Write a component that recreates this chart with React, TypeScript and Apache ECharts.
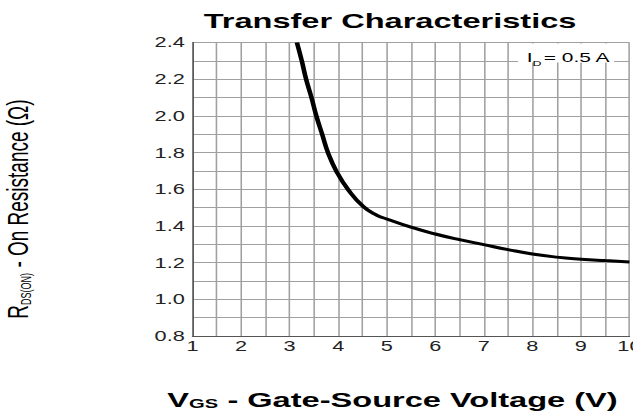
import React, { useEffect, useRef } from "react";
import * as echarts from "echarts";

// Data (V_GS in volts, R_DS(ON) in ohms)
const VGS = [3.15, 3.25, 3.34, 3.45, 3.55, 3.67, 3.79, 3.96, 4.2, 4.52, 4.8, 5.0, 5.5, 6.0, 6.5, 7.0, 7.5, 8.0, 8.5, 9.0, 9.5, 10];
const RDS = [2.4, 2.3, 2.2, 2.1, 2.0, 1.9, 1.8, 1.7, 1.6, 1.505, 1.458, 1.438, 1.393, 1.356, 1.325, 1.298, 1.271, 1.247, 1.23, 1.219, 1.211, 1.204];

const X_MIN = 1, X_MAX = 10, X_STEP = 0.5;
const Y_MIN = 0.8, Y_MAX = 2.4, Y_STEP = 0.1;

const TITLE = "Transfer Characteristics";
const NOTE_MAIN = "I";
const NOTE_SUB = "D";
const NOTE_REST = "= 0.5 A";

// The reference picture is horizontally stretched; reproduce it with a CSS scaleX.
const INNER_W = 408;
const STRETCH = 633 / INNER_W;
const FONT = "'Liberation Sans', Arial, Helvetica, sans-serif";

export default function App() {
  const ref = useRef<HTMLDivElement>(null);
  useEffect(() => {
    if (!ref.current) return;
    const chart = echarts.init(ref.current, undefined, { renderer: "svg" });
    const data = VGS.map((v, i) => [v, RDS[i]]);
    chart.setOption({
      animation: false,
      grid: { left: 124.1, right: 2.3, top: 42.5, bottom: 75, outerBoundsMode: "none" },
      xAxis: {
        type: "value",
        min: X_MIN,
        max: X_MAX,
        interval: X_STEP,
        axisLine: { show: true, lineStyle: { color: "#555", width: 1 } },
        axisTick: { show: false },
        splitLine: { show: true, lineStyle: { color: "#a0a0a0", width: 1 } },
        axisLabel: {
          color: "#222",
          fontSize: 14,
          fontFamily: FONT,
          margin: 3,
          showMaxLabel: true,
          showMinLabel: true,
          formatter: (v: number) => (Math.abs(v - Math.round(v)) < 1e-6 ? String(Math.round(v)) : ""),
        },
      },
      yAxis: {
        type: "value",
        min: Y_MIN,
        max: Y_MAX,
        interval: Y_STEP,
        axisLine: { show: true, lineStyle: { color: "#555", width: 1 } },
        axisTick: { show: false },
        splitLine: { show: true, lineStyle: { color: "#a0a0a0", width: 1 } },
        axisLabel: {
          color: "#222",
          fontSize: 14,
          fontFamily: FONT,
          margin: 5,
          showMaxLabel: true,
          showMinLabel: true,
          formatter: (v: number) => {
            const t = Math.round(v * 10);
            return t % 2 === 0 ? (t / 10).toFixed(1) : "";
          },
        },
      },
      graphic: [
        {
          type: "text",
          x: 251.4,
          y: 20.5,
          z: 20,
          style: {
            text: TITLE,
            fontSize: 21,
            fontWeight: "bold",
            fontFamily: FONT,
            fill: "#000",
            align: "center",
            verticalAlign: "middle",
          },
        },
        {
          type: "text",
          x: 253,
          y: 398.5,
          z: 20,
          style: {
            text: "{m|V}{s|GS}{m| - Gate-Source Voltage (V)}",
            fontFamily: FONT,
            fill: "#000",
            align: "center",
            verticalAlign: "middle",
            rich: {
              m: { fontSize: 21, fontWeight: "bold", fontFamily: FONT, fill: "#000", verticalAlign: "bottom", lineHeight: 24 },
              s: { fontSize: 13, fontWeight: "bold", fontFamily: FONT, fill: "#000", verticalAlign: "bottom", lineHeight: 12 },
            },
          },
        },
        {
          type: "text",
          x: 10.3,
          y: 209,
          z: 20,
          rotation: Math.PI / 2,
          style: {
            text: "{m|R}{s|DS(ON)}{m| - On Resistance (Ω)}",
            fontFamily: FONT,
            fill: "#000",
            align: "center",
            verticalAlign: "middle",
            rich: {
              m: { fontSize: 19, fontFamily: FONT, fill: "#000", verticalAlign: "bottom", lineHeight: 22 },
              s: { fontSize: 9, fontFamily: FONT, fill: "#000", verticalAlign: "bottom", lineHeight: 9 },
            },
          },
        },
        {
          type: "rect",
          z: 15,
          shape: { x: 333.9, y: 43.5, width: 61.9, height: 19 },
          style: { fill: "#fff" },
        },
        {
          type: "text",
          x: 339.5,
          y: 57.3,
          z: 20,
          style: { text: NOTE_MAIN, fontSize: 13.5, fontFamily: FONT, fill: "#000", align: "left", verticalAlign: "middle" },
        },
        {
          type: "text",
          x: 343.3,
          y: 63.8,
          z: 20,
          style: { text: NOTE_SUB, fontSize: 8, fontFamily: FONT, fill: "#000", align: "left", verticalAlign: "middle" },
        },
        {
          type: "text",
          x: 350.5,
          y: 57.3,
          z: 20,
          style: { text: NOTE_REST, fontSize: 13.5, fontFamily: FONT, fill: "#000", align: "left", verticalAlign: "middle" },
        },
      ],
      series: [
        {
          type: "line",
          data,
          showSymbol: false,
          smooth: true,
          clip: true,
          lineStyle: { color: "#000", width: 3 },
          z: 5,
        },
      ],
    });
    return () => chart.dispose();
  }, []);
  return (
    <div style={{ position: "fixed", left: 0, top: 0, width: 633, height: 411, overflow: "hidden", background: "#fff" }}>
      <div
        ref={ref}
        style={{ width: INNER_W, height: 411, transform: `scaleX(${STRETCH})`, transformOrigin: "0 0" }}
      />
    </div>
  );
}
